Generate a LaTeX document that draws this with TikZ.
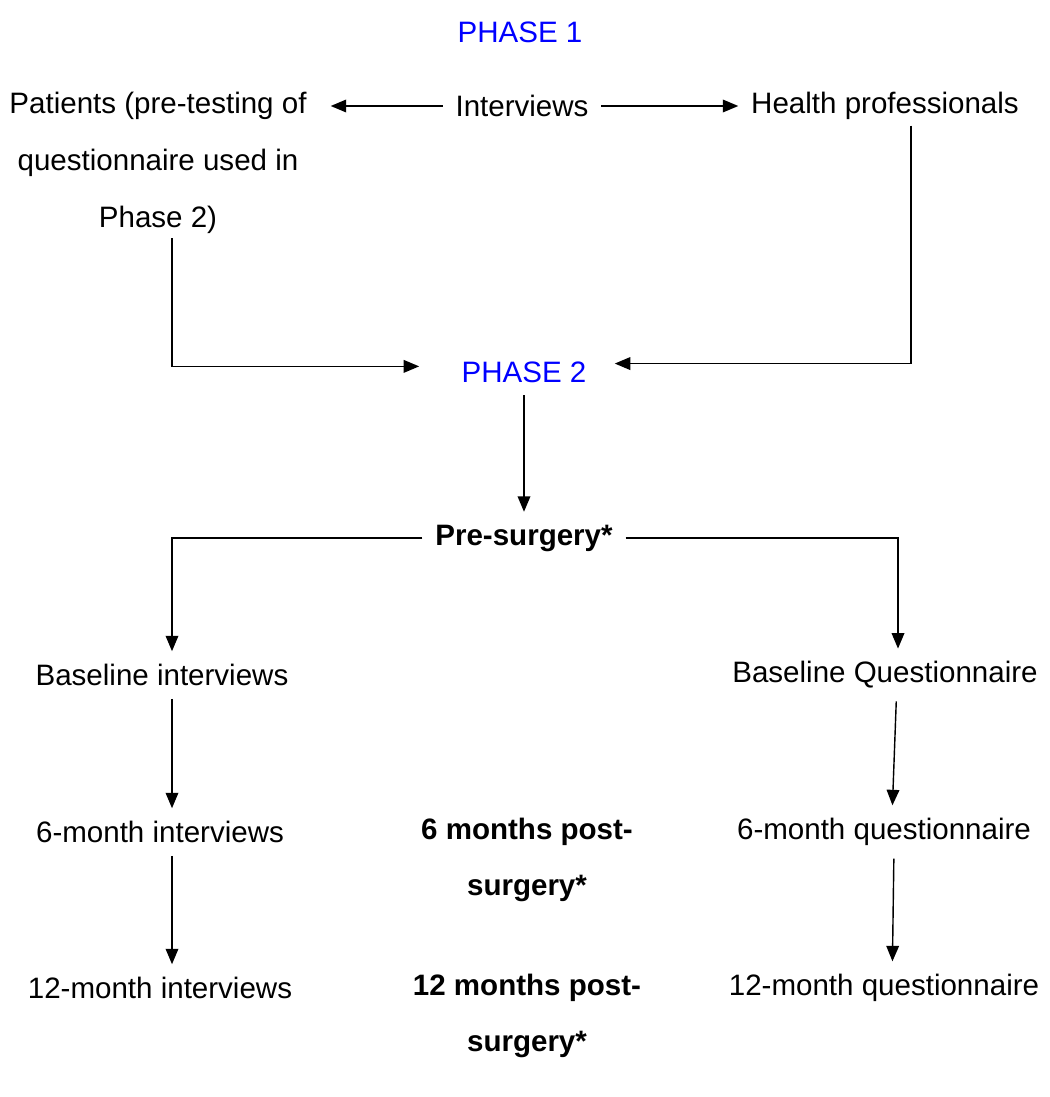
\documentclass[tikz,border=0pt]{standalone}
\usepackage{fontspec}
\setmainfont{Liberation Sans}
\usetikzlibrary{arrows.meta, positioning, calc}
\definecolor{PhaseBlue}{HTML}{0000FF}
\tikzset{
  stagebox/.style={align=center, inner sep=9pt, font=\fontsize{21}{40.4}\selectfont},
  phasebox/.style={stagebox, text=PhaseBlue},
  timebox/.style={stagebox, font=\fontsize{21}{40.4}\selectfont\bfseries},
  arrow/.style={-{Triangle[length=11pt, width=9pt]}, line width=1pt}
}

\begin{document}
\begin{tikzpicture}[x=0.025cm, y=-0.025cm]
\useasboundingbox (0,0) rectangle (1050,1097);
% phase 1
\node[phasebox] (phaseone) at (520,32) {PHASE 1};
\node[stagebox] (interviews) at (522,106) {Interviews};
\node[stagebox] (patients) at (158,163) {Patients (pre-testing of\\questionnaire used in\\Phase 2)};
\node[stagebox] (healthpro) at (885,106) {Health professionals};
% phase 2
\node[phasebox] (phasetwo) at (524,372) {PHASE 2};
\node[timebox] (presurgery) at (524,538) {Pre-surgery*};
\node[stagebox] (baseint) at (162,675) {Baseline interviews};
\node[stagebox] (baseq) at (885,675) {Baseline Questionnaire};
\node[stagebox] (sixint) at (160,832) {6-month interviews};
\node[timebox] (sixpost) at (527,860) {6 months post-\\surgery*};
\node[stagebox] (sixq) at (884,832) {6-month questionnaire};
\node[stagebox] (twelveint) at (160,988) {12-month interviews};
\node[timebox] (twelvepost) at (527,1016) {12 months post-\\surgery*};
\node[stagebox] (twelveq) at (884,988) {12-month questionnaire};
\coordinate (leftrail) at (172,0);
\coordinate (rightrail) at (911,0);
\coordinate (qrail) at (898,0);

\draw[arrow, shorten >=8pt] (interviews) -- (patients.east |- interviews);
\draw[arrow] (interviews) -- (healthpro);
\draw[arrow, shorten >=21pt, shorten <=-6pt] (patients.south -| leftrail) |- ([yshift=4pt]phasetwo.west);
\draw[arrow, shorten >=11pt, shorten <=-5pt] (healthpro.south -| rightrail) |- ([yshift=6pt]phasetwo.east);
\draw[arrow] (phasetwo) -- (presurgery);
\draw[arrow] (presurgery.west) -| (baseint.north -| leftrail);
\draw[arrow] (presurgery.east) -| (baseq.north -| qrail);
\draw[arrow] (baseint.south -| leftrail) -- (sixint.north -| leftrail);
\draw[arrow] (sixint.south -| leftrail) -- (twelveint.north -| leftrail);
\draw[arrow] ([xshift=8pt]baseq.south) -- ([xshift=6pt]sixq.north);
\draw[arrow] ([xshift=7pt]sixq.south) -- ([xshift=6pt]twelveq.north);
\end{tikzpicture}
\end{document}
